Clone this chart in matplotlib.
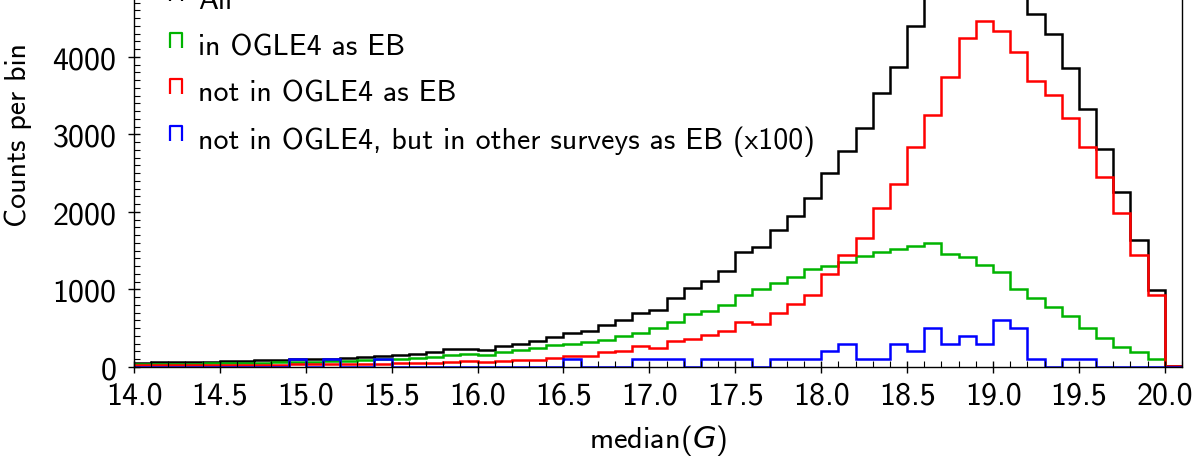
import matplotlib
matplotlib.use('Agg')
import matplotlib.pyplot as plt
import numpy as np
from matplotlib.path import Path
from matplotlib.lines import Line2D
from matplotlib.ticker import MultipleLocator, FormatStrFormatter

plt.rcParams['font.family'] = ['cmss10', 'DejaVu Sans']
plt.rcParams['mathtext.fontset'] = 'custom'
plt.rcParams['mathtext.rm'] = 'cmss10'
plt.rcParams['mathtext.it'] = 'DejaVu Sans:italic'
plt.rcParams['axes.formatter.use_mathtext'] = True
plt.rcParams['font.size'] = 23

# bin edges: 0.1 mag bins from 14.0 to 20.1
bin_lo, bin_hi, bin_w = 14.0, 20.1, 0.1

# counts per bin (14.0-14.1, 14.1-14.2, ..., 20.0-20.1)
all_counts = [55, 65, 65, 65, 70, 77, 77, 86, 90, 99,
              100, 108, 120, 133, 142, 150, 163, 193, 227, 236,
              219, 270, 300, 335, 390, 442, 466, 548, 608, 702,
              732, 896, 1025, 1114, 1243, 1488, 1552, 1772, 1952, 2184,
              2503, 2786, 3083, 3530, 3866, 4395, 4846, 5200, 5650, 5790,
              5550, 5065, 4554, 4296, 3853, 3328, 2812, 2253, 1643, 998,
              15]
in_ogle = [35, 45, 45, 45, 48, 52, 52, 58, 60, 66,
           66, 72, 80, 90, 97, 103, 115, 135, 160, 163,
           150, 198, 215, 240, 280, 295, 320, 350, 396, 445,
           500, 575, 680, 718, 795, 935, 1000, 1090, 1155, 1270,
           1307, 1360, 1428, 1485, 1525, 1563, 1595, 1458, 1415, 1320,
           1221, 1006, 890, 778, 662, 499, 374, 262, 189, 103,
           0]
not_in_ogle = [20, 20, 20, 20, 22, 25, 25, 28, 30, 33,
               34, 36, 40, 43, 45, 47, 48, 58, 67, 73,
               69, 72, 85, 95, 110, 147, 146, 189, 211, 267,
               241, 340, 361, 413, 469, 576, 555, 697, 813, 929,
               1195, 1445, 1664, 2051, 2361, 2834, 3251, 3745, 4240, 4468,
               4330, 4059, 3685, 3513, 3208, 2834, 2447, 1982, 1445, 929,
               15]
other_surveys = [0, 0, 0, 0, 0, 0, 0, 0, 0, 100,
                 0, 100, 0, 0, 100, 0, 0, 0, 0, 0,
                 0, 0, 0, 0, 0, 100, 0, 0, 0, 100,
                 100, 100, 0, 100, 100, 100, 0, 100, 100, 100,
                 200, 300, 100, 100, 300, 200, 500, 300, 400, 300,
                 600, 500, 100, 0, 100, 100, 0, 0, 0, 0,
                 0]

labels = ['All', 'in OGLE4 as EB', 'not in OGLE4 as EB',
          'not in OGLE4, but in other surveys as EB (x100)']
colors = ['black', '#00b400', '#ff0000', '#0000ff']

edges = np.round(np.arange(bin_lo, bin_hi + bin_w / 2, bin_w), 2)

fig = plt.figure(figsize=(11.96, 4.6), dpi=100)
# the top of the frame lies above the visible area (cropped figure)
ax = fig.add_axes([0.112, 0.2, 0.8763, 1.011])

for vals, c in zip([all_counts, in_ogle, not_in_ogle, other_surveys], colors):
    ax.stairs(vals, edges, color=c, lw=1.8)

ax.set_xlim(14.0, 20.1)
ax.set_ylim(0, 6000)
ax.xaxis.set_major_locator(MultipleLocator(0.5))
ax.xaxis.set_minor_locator(MultipleLocator(0.1))
ax.xaxis.set_major_formatter(FormatStrFormatter('%.1f'))
ax.yaxis.set_major_locator(MultipleLocator(1000))
ax.yaxis.set_minor_locator(MultipleLocator(100))
ax.tick_params(which='major', direction='inout', length=9, width=1.0)
ax.tick_params(which='minor', direction='in', length=4, width=0.8)
ax.tick_params(axis='x', which='major', pad=5)
ax.tick_params(axis='y', which='major', pad=8)
for s in ax.spines.values():
    s.set_linewidth(1.0)

ax.set_xlabel('median($G$)', fontsize=22)
ax.xaxis.set_label_coords(0.5, -0.119)
ax.set_ylabel('Counts per bin', fontsize=21.5)
ax.yaxis.set_label_coords(-0.097, 0.5)

# legend handle shaped like an open-bottom box, sitting a bit above centre
cap = Path([(-0.4, -0.25), (-0.4, 0.75), (0.4, 0.75), (0.4, -0.25)],
           [Path.MOVETO, Path.LINETO, Path.LINETO, Path.LINETO])
handles = [Line2D([], [], linestyle='none', marker=cap, markersize=16,
                  markerfacecolor='none', markeredgecolor=c, markeredgewidth=1.6)
           for c in colors]
ax.legend(handles, labels, loc='upper left', bbox_to_anchor=(0.0203, 0.843),
          frameon=False, fontsize=21.5, handlelength=0.6, handletextpad=0.42,
          labelspacing=0.64, borderaxespad=0)

plt.savefig('out.png', dpi=100)
